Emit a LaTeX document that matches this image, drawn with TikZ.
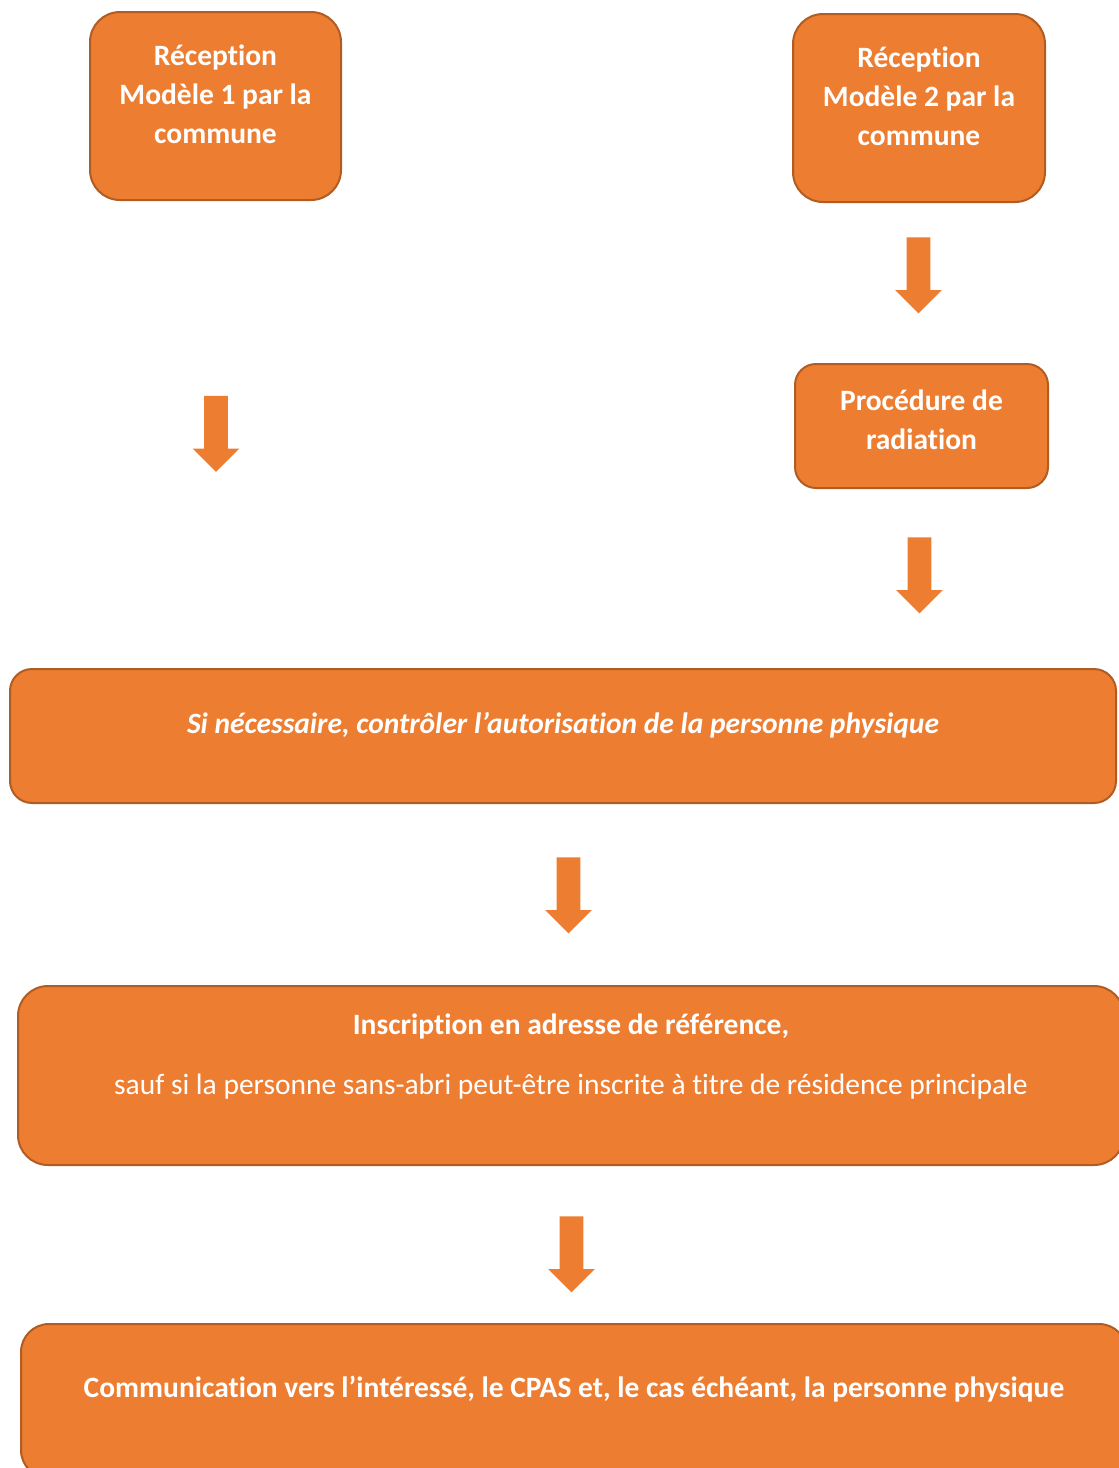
\documentclass[tikz,border=0pt]{standalone}
\usepackage{fontspec}
\setmainfont{Carlito}[Ligatures=NoCommon]
\usetikzlibrary{shapes.arrows}
\definecolor{orangebox}{HTML}{ED7D31}
\definecolor{orangeline}{HTML}{B05C22}
\newcommand{\lift}[2]{\raisebox{#1}[0pt][0pt]{\begin{tabular}{@{}c@{}}#2\end{tabular}}}

\begin{document}
\begin{tikzpicture}[x=0.5pt,y=-0.5pt,
  etape/.style={draw=orangeline, line width=1pt, fill=orangebox, text=white,
    font=\fontsize{14.75}{19.5}\selectfont\bfseries, inner sep=0pt},
  fleche/.style={single arrow, fill=orangebox, rotate=-90, inner sep=5.75pt,
    minimum height=38pt, single arrow head extend=5.75pt,
    single arrow head indent=0pt, single arrow tip angle=90}]
\path[use as bounding box, clip] (0,0) rectangle (1119,1468);

% top row
\node[etape, minimum width=125.5pt, minimum height=94pt, rounded corners=15pt] (recep1) at (215.5,106)
  {\lift{1pt}{Réception\\Modèle 1 par la\\commune}};
\node[etape, minimum width=126pt, minimum height=94pt, rounded corners=15pt] (recep2) at (919,108)
  {\lift{1pt}{Réception\\Modèle 2 par la\\commune}};
\node[fleche] (fleche2) at (918.5,269.5) {};
\node[etape, minimum width=126.5pt, minimum height=62pt, rounded corners=10.5pt] (radiation) at (921.5,426)
  {\lift{-1.5pt}{Procédure de\\radiation}};
\node[fleche] (fleche1) at (216,428) {};
\node[fleche] (fleche3) at (919.5,569.5) {};

% common steps
\node[etape, minimum width=553pt, minimum height=67pt, rounded corners=11pt] (controle) at (563,736)
  {\lift{1.5pt}{\itshape Si nécessaire, contrôler l’autorisation de la personne physique}};
\node[fleche] (fleche4) at (568.5,889.5) {};
\node[etape, minimum width=553pt, minimum height=89.5pt, rounded corners=15pt] (inscription) at (571,1075.5)
  {\lift{5.75pt}{Inscription en adresse de référence,\\[10.5pt]
   \mdseries sauf si la personne sans-abri peut-être inscrite à titre de résidence principale}};
\node[fleche] (fleche5) at (571.5,1248.5) {};
\node[etape, minimum width=553pt, minimum height=77pt, rounded corners=14pt] (communication) at (574,1401)
  {\lift{2pt}{Communication vers l’intéressé, le CPAS et, le cas échéant, la personne physique}};
\end{tikzpicture}
\end{document}
